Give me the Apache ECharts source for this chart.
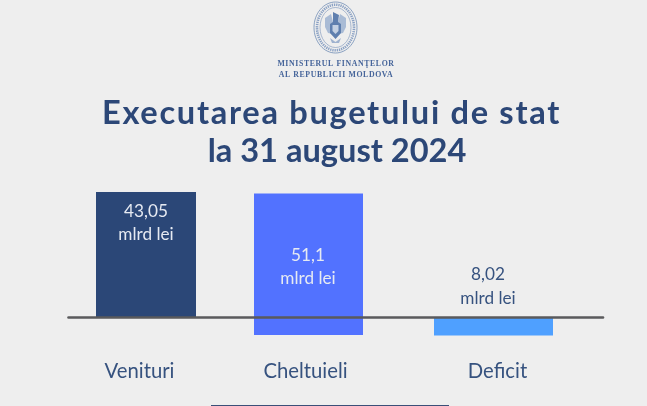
<!DOCTYPE html>
<html><head><meta charset="utf-8">
<style>html,body{margin:0;padding:0;background:#eeeeee}#c{width:647px;height:406px}</style>
<script src="https://cdn.jsdelivr.net/npm/echarts@6/dist/echarts.min.js"></script>
</head><body><div id="c"></div>
<script>
const categories = ['Venituri', 'Cheltuieli', 'Deficit'];
const values = [43.05, 51.1, 8.02];
const valueLabels = ['43,05', '51,1', '8,02'];
const unitLabel = 'mlrd lei';
const titleLines = ['Executarea bugetului de stat', 'la 31 august 2024'];
const ministryLines = ['MINISTERUL FINANŢELOR', 'AL REPUBLICII MOLDOVA'];

// letter-spacing for the tracked lines (canvas draws the whole string as one text)
const tracked = {[titleLines[0]]: '1.7px', [ministryLines[0]]: '0.62px', [ministryLines[1]]: '0.62px'};
const origFill = CanvasRenderingContext2D.prototype.fillText;
CanvasRenderingContext2D.prototype.fillText = function (t, x, y, m) {
  const ls = tracked[t];
  if (ls) this.letterSpacing = ls;
  const r = m === undefined ? origFill.call(this, t, x, y) : origFill.call(this, t, x, y, m);
  if (ls) this.letterSpacing = '0px';
  return r;
};

const NAVY = '#2c4777', TXT = '#36527f', SEAL = '#5f7fae';
const colors = ['#2b4777', '#5272ff', '#4fa0ff'];
// every bar has its own width and scale in the original infographic
const panels = [
  {left: 96, width: 100, top: 192, bottom: 317, lblPad: [0, 13, 0, 0]},
  {left: 254, width: 109, top: 193.5, bottom: 335, lblPad: [0, 6, 0, 0]},
  {left: 434, width: 119, top: 317.5, bottom: 335.5, lblPad: [0, 0, 0, 8]}
];
const labelY = 371;

const grids = [], xAxes = [], yAxes = [], series = [];
panels.forEach((p, i) => {
  grids.push({left: p.left, width: p.width, top: p.top, height: p.bottom - p.top});
  xAxes.push({type: 'category', gridIndex: i, data: [categories[i]],
    axisLine: {show: false}, axisTick: {show: false},
    axisLabel: {color: TXT, fontFamily: 'Lato', fontSize: 20.3, margin: labelY - p.bottom - 10, padding: p.lblPad}});
  yAxes.push({type: 'value', gridIndex: i, min: 0, max: values[i], show: false, splitLine: {show: false}});
  series.push({type: 'bar', xAxisIndex: i, yAxisIndex: i, barWidth: '100%',
    data: [values[i]], itemStyle: {color: colors[i]}, z: 2, silent: true});
});
// baseline: an axis spanning the plot
grids.push({left: 68.5, width: 534.5, top: 317.5, height: 10});
xAxes.push({type: 'value', gridIndex: 3, min: 0, max: 1, position: 'top', z: 6,
  axisLine: {show: true, onZero: false, lineStyle: {color: '#5a5a5c', width: 2.6}},
  axisTick: {show: false}, axisLabel: {show: false}, splitLine: {show: false}});
yAxes.push({type: 'value', gridIndex: 3, show: false, splitLine: {show: false}});

const txt = (x, y, text, size, color, weight, family) => ({type: 'text', x, y, z: 10, silent: true,
  style: {text, fill: color, fontSize: size, fontWeight: weight || 'normal', fontFamily: family || 'Lato', align: 'center', verticalAlign: 'middle'}});
const poly = (points, fill) => ({type: 'polygon', silent: true, z: 3, shape: {points}, style: {fill}});
const oval = (rx, ry, stroke, lineWidth, lineDash) => ({type: 'ellipse', silent: true, z: 3,
  shape: {cx: 335.5, cy: 27.5, rx, ry}, style: {fill: 'none', stroke, lineWidth, lineDash}});

const graphic = [
  // value captions
  txt(146, 211, valueLabels[0], 17.2, '#e6eaf2'), txt(146, 234.5, unitLabel, 17.2, '#e6eaf2'),
  txt(308, 255, valueLabels[1], 17.2, '#e6eaf2'), txt(308, 278.5, unitLabel, 17.2, '#e6eaf2'),
  txt(488, 274.5, valueLabels[2], 17.2, TXT), txt(488, 298, unitLabel, 17.2, TXT),
  // titles
  txt(331.5, 113, titleLines[0], 32.6, NAVY, 'bold'),
  txt(337, 151, titleLines[1], 32.6, NAVY, 'bold'),
  // ministry
  txt(336, 64, ministryLines[0], 7.8, '#45649a', 'bold', 'Liberation Serif'),
  txt(336, 75, ministryLines[1], 7.8, '#45649a', 'bold', 'Liberation Serif'),
  // seal
  oval(21.5, 25.5, SEAL, 0.7),
  oval(15.5, 20, SEAL, 0.5),
  oval(18.5, 22.8, '#8aa1c4', 2.6, [1.3, 0.9]),
  poly([[325,18],[331,14],[333,22],[333,34],[328,33],[325,27]], '#a9bbd5'),
  poly([[346,18],[340,14],[338,22],[338,34],[343,33],[346,27]], '#a9bbd5'),
  poly([[333,12],[339,15],[338,22],[341,24],[341,33],[335.5,39],[330,33],[330,24],[333,22]], '#5f7fae'),
  poly([[332.5,25],[338.5,25],[338.5,31],[335.5,34],[332.5,31]], '#c4d1e3'),
  poly([[330,38],[335.5,42],[341,38],[339,43],[332,43]], '#9fb2cf'),
  // rule at the bottom edge
  {type: 'rect', silent: true, shape: {x: 211, y: 405, width: 238, height: 1}, style: {fill: '#3a4f78'}}
];

const chart = echarts.init(document.getElementById('c'), null, {renderer: 'canvas'});
chart.setOption({animation: false, backgroundColor: '#eeeeee', grid: grids, xAxis: xAxes, yAxis: yAxes, series, graphic});
</script></body></html>
